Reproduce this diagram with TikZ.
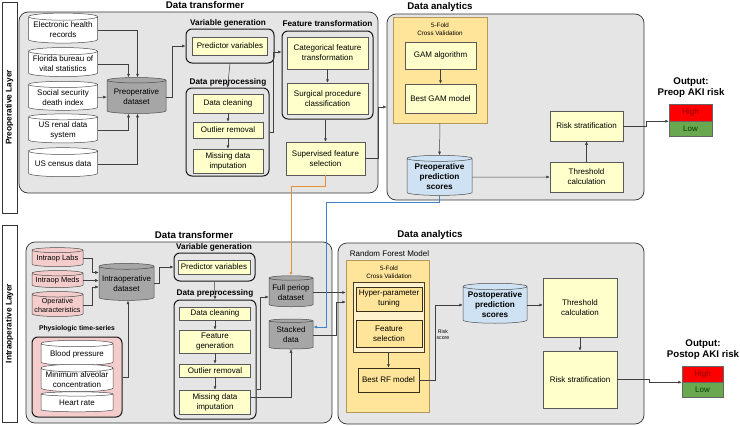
\documentclass[tikz,border=0pt]{standalone}
\usepackage{fontspec}
\setmainfont{Liberation Sans}
\usetikzlibrary{arrows.meta,shapes.geometric}

\definecolor{panelgray}{HTML}{E5E5E5}
\definecolor{boxyellow}{HTML}{FFFFCC}
\definecolor{cvorange}{HTML}{FFE599}
\definecolor{cvlight}{HTML}{FFF2CC}
\definecolor{cvedge}{HTML}{B8975A}
\definecolor{scoreblue}{HTML}{CFE2F3}
\definecolor{labpink}{HTML}{F4CCCC}
\definecolor{datagray}{HTML}{A6A6A6}
\definecolor{linkorange}{HTML}{E69138}
\definecolor{linkblue}{HTML}{3D85C6}
\definecolor{riskred}{HTML}{FF0000}
\definecolor{riskgreen}{HTML}{6AA84F}

\tikzset{
	every node/.style={font=\fontsize{8}{10}\selectfont, inner sep=0pt, align=center},
	sz/.style 2 args={minimum width=#1pt, minimum height=#2pt},
	layer/.style={draw=black!80, fill=white, rotate=90, line width=0.6pt, font=\bfseries\fontsize{8.3}{10}\selectfont},
	panel/.style={draw=black!80, fill=panelgray, rounded corners=9pt, line width=0.7pt},
	grp/.style={draw=black!90, rounded corners=6pt, line width=1pt},
	ybox/.style={draw=black!65, fill=boxyellow, line width=0.5pt},
	obox/.style={draw=black!70!cvedge, fill=cvorange, line width=0.5pt},
	cvbox/.style={draw=cvedge, fill=cvorange, line width=0.5pt},
	cvin/.style={draw=black!60!cvedge, fill=cvlight, line width=0.5pt},
	cyl/.style={cylinder, shape border rotate=90, aspect=0.12, draw=black!70, line width=0.5pt},
	ttl/.style={font=\bfseries\fontsize{9.7}{11}\selectfont},
	subttl/.style={font=\bfseries\fontsize{8.2}{10}\selectfont},
	tinytxt/.style={font=\fontsize{6.3}{7.6}\selectfont},
	riskhi/.style={draw=black!60, fill=riskred, text=red!55!black, line width=0.5pt},
	risklo/.style={draw=black!60, fill=riskgreen, text=green!25!black, line width=0.5pt},
	link/.style={draw=black!75, line width=0.5pt, -{Latex[length=3.5pt,width=3pt]}},
}

\begin{document}
\begin{tikzpicture}[x=1pt, y=-1pt]
		%%%%% START %%%%%
		\useasboundingbox (0,0) rectangle (740,426);
		
		% layer labels
		\node[layer, sz={211}{15}] (preL) at (9.5,107.5) {Preoperative Layer};
		\node[layer, sz={197}{15}] (intraL) at (9.5,323.5) {Intraoperative Layer};
		
		%%%%% PREOPERATIVE: DATA TRANSFORMER %%%%%
		\node[panel, sz={359}{181}] (dt1) at (198.5,102.5) {};
		\node[ttl] at (205,5) {Data transformer};
		
		\node[cyl, fill=white, sz={69}{30}] (ehr) at (63,30) {Electronic health\\records};
		\node[cyl, fill=white, sz={69}{29}] (fla) at (63,64) {Florida bureau of\\vital statistics};
		\node[cyl, fill=white, sz={69}{29}] (ssdi) at (63,97.5) {Social security\\death index};
		\node[cyl, fill=white, sz={69}{29}] (usrds) at (63,130) {US renal data\\system};
		\node[cyl, fill=white, sz={69}{29}] (census) at (63,164) {US census data};
		\node[cyl, fill=datagray, sz={59}{36}] (predata) at (136.5,97) {Preoperative\\dataset};
		
		\node[grp, sz={88}{34}] (vg1) at (230,46) {};
		\node[subttl] at (228,23) {Variable generation};
		\node[ybox, sz={75}{18}] (pv1) at (230,46) {Predictor variables};
		
		\node[grp, sz={83}{88}] (dp1) at (227.5,132) {};
		\node[subttl] at (228,82) {Data preprocessing};
		\node[ybox, sz={70}{19}] (dc1) at (228,103.5) {Data cleaning};
		\node[ybox, sz={70}{16}] (or1) at (228,130) {Outlier removal};
		\node[ybox, sz={70}{24}] (mdi1) at (228,161) {Missing data\\imputation};
		
		\node[grp, sz={91}{88}] (ft1) at (327.5,75) {};
		\node[subttl] at (327.5,24) {Feature transformation};
		\node[ybox, sz={81}{32}] (cft) at (327.5,53) {Categorical feature\\transformation};
		\node[ybox, sz={81}{31}] (spc) at (327.5,98.5) {Surgical procedure\\classification};
		\node[ybox, sz={79}{33}] (sfs) at (325.5,158.5) {Supervised feature\\selection};
		
		\draw[link] (ehr.east) -| ([xshift=1pt]predata.north);
		\draw[link] (fla.east) -| ([xshift=-8pt]predata.north);
		\draw[link] (ssdi.east) -- (predata.west);
		\draw[link] (usrds.east) -| ([xshift=-8pt]predata.south);
		\draw[link] (census.east) -| ([xshift=1pt]predata.south);
		\draw[link] (predata.east) -- ++(6,0) |- (vg1.west);
		\draw[link] (vg1.south) -- (dp1.north);
		\draw[link] (dc1.south) -- (or1.north);
		\draw[link] (or1.south) -- (mdi1.north);
		\draw[link] (dp1.east) -- ++(4,0) |- ([yshift=23pt]ft1.west);
		\draw[link] (cft.south) -- (spc.north);
		\draw[link] (sfs.north |- ft1.south) -- (sfs.north);
		
		%%%%% PREOPERATIVE: DATA ANALYTICS %%%%%
		\node[panel, sz={257}{186}] (da1) at (515.5,107) {};
		\node[ttl] at (440,7) {Data analytics};
		
		\node[cvbox, sz={94}{106}] (cv1) at (440,70) {};
		\node[tinytxt] at (440,29) {5-Fold\\Cross Validation};
		\node[ybox, sz={71}{27}] (gam) at (440.5,55.5) {GAM algorithm};
		\node[ybox, sz={71}{29}] (bgam) at (440.5,98.5) {Best GAM model};
		\node[cyl, fill=scoreblue, sz={65}{40}, font=\bfseries\fontsize{8.2}{10}\selectfont] (pps) at (439.5,177) {Preoperative\\prediction\\scores};
		\node[ybox, sz={73}{30}] (thr1) at (586.5,177) {Threshold\\calculation};
		\node[ybox, sz={73}{30}] (rs1) at (586.5,126) {Risk stratification};
		
		\node[ttl] at (691,87.5) {Output:\\Preop AKI risk};
		\node[riskhi, sz={43}{17}] (high1) at (690.5,112.5) {High};
		\node[risklo, sz={43}{15}] (low1) at (690.5,128.5) {Low};
		
		\draw[link] (gam.south) -- (bgam.north);
		\draw[link] (sfs.east) -- ++(13,0) |- (da1.west);
		\draw[link] (cv1.south) -- (pps.north);
		\draw[link] (pps.east) -- (thr1.west);
		\draw[link] (thr1.north) -- (rs1.south);
		\draw[link] (rs1.east) -- ++(23,0) |- (high1.south west);
		
		%%%%% INTRAOPERATIVE: DATA TRANSFORMER %%%%%
		\node[panel, sz={306}{181}] (dt2) at (179,332.5) {};
		\node[ttl] at (194,235) {Data transformer};
		
		\node[cyl, fill=labpink, sz={51}{19}, font=\fontsize{7.5}{9}\selectfont] (labs) at (57.5,258.5) {Intraop Labs};
		\node[cyl, fill=labpink, sz={51}{17}, font=\fontsize{7.5}{9}\selectfont] (meds) at (57.5,280.5) {Intraop Meds};
		\node[cyl, fill=labpink, sz={51}{25}, font=\fontsize{7.2}{9}\selectfont] (opc) at (57.5,305.5) {Operative\\characteristics};
		\node[cyl, fill=datagray, sz={55}{37}] (intrads) at (126.5,283.5) {Intraoperative\\dataset};
		
		\node[font=\bfseries\fontsize{6.8}{8}\selectfont] at (77,329) {Physiologic time-series};
		\node[grp, fill=labpink, sz={90}{80}] (ptsg) at (77,377) {};
		\node[cyl, fill=white, sz={72}{25}] (bp) at (77,354.5) {Blood pressure};
		\node[cyl, fill=white, sz={72}{26}] (mac) at (77,380) {Minimum alveolar\\concentration};
		\node[cyl, fill=white, sz={72}{20}] (hr) at (77,403) {Heart rate};
		
		\node[grp, sz={81}{28}] (vg2) at (214.5,267) {};
		\node[subttl] at (214,247) {Variable generation};
		\node[ybox, sz={72}{14}] (pv2) at (214,267) {Predictor variables};
		
		\node[grp, sz={82}{119}] (dp2) at (215,359.5) {};
		\node[subttl] at (215,293) {Data preprocessing};
		\node[ybox, sz={71}{13}] (dc2) at (215,313.5) {Data cleaning};
		\node[ybox, sz={71}{23}] (fg2) at (215,341.5) {Feature\\generation};
		\node[ybox, sz={71}{13}] (or2) at (215,370.5) {Outlier removal};
		\node[ybox, sz={71}{24}] (mdi2) at (215,402) {Missing data\\imputation};
		
		\node[cyl, fill=datagray, sz={44}{31}] (fpd) at (291,292.5) {Full periop\\dataset};
		\node[cyl, fill=datagray, sz={44}{30}] (std) at (291,335) {Stacked\\data};
		
		\draw[link] (labs.east) -- ++(9,0) |- ([yshift=11pt]intrads.west);
		\draw[link] (meds.east) -- (meds.east -| intrads.west);
		\draw[link] (opc.east) -- ++(9,0) |- ([yshift=-3.5pt]intrads.west);
		\draw[link] (ptsg.east) -| ([xshift=1.5pt]intrads.south);
		\draw[link] (intrads.east) -- ++(5,0) |- (vg2.west);
		\draw[link] (vg2.south) -- (dp2.north);
		\draw[link] (dc2.south) -- (fg2.north);
		\draw[link] (fg2.south) -- (or2.north);
		\draw[link] (or2.south) -- (mdi2.north);
		\draw[link] ([yshift=-30pt]dp2.east) -- ++(4,0) |- ([yshift=-4.5pt]fpd.west);
		\draw[link] ([yshift=5pt]mdi2.east) -| (std.south);
		
		%%%%% INTRAOPERATIVE: DATA ANALYTICS %%%%%
		\node[panel, sz={306}{181}] (da2) at (491,333.5) {};
		\node[ttl] at (430,235) {Data analytics};
		
		\node at (389.5,254) {Random Forest Model};
		\node[cvbox, sz={83}{152}] (rf) at (387.5,336) {};
		\node[tinytxt] at (389,272) {5-Fold\\Cross Validation};
		\node[cvin, sz={71}{70}] (cv2) at (388.5,317) {};
		\node[obox, sz={66}{24}] (hpt) at (389,299) {Hyper-parameter\\tuning};
		\node[obox, sz={66}{27}] (fsel) at (389,333.5) {Feature\\selection};
		\node[obox, sz={61}{24}] (brf) at (388.5,380) {Best RF model};
		\node[font=\fontsize{5.2}{6.2}\selectfont] at (443,335) {Risk\\score};
		
		\node[cyl, fill=scoreblue, sz={64}{40}, font=\bfseries\fontsize{8.2}{10}\selectfont] (pops) at (495,305) {Postoperative\\prediction\\scores};
		\node[ybox, sz={74}{59}] (thr2) at (580,307.5) {Threshold\\calculation};
		\node[ybox, sz={74}{57}] (rs2) at (580,379.5) {Risk stratification};
		
		\node[ttl] at (703,350) {Output:\\Postop AKI risk};
		\node[riskhi, sz={41}{16}] (high2) at (702.5,374) {High};
		\node[risklo, sz={41}{15}] (low2) at (702.5,389.5) {Low};
		
		\draw[link] (fpd.east) -- (fpd.east -| rf.west);
		\draw[link] (std.east) -- ++(23,0) |- ([yshift=34pt]rf.west);
		\draw[link] (cv2.south) -- (brf.north);
		\draw[link] (brf.east) -- ++(16,0) |- (pops.west);
		\draw[link] (pops.east) -- (pops.east -| thr2.west);
		\draw[link] (thr2.south) -- (rs2.north);
		\draw[link] (rs2.east) -- ++(32,0) |- (high2.south west);
		
		% links between the layers
		\draw[link, draw=linkorange, line width=0.8pt] (sfs.south) -- ++(0,11) -| (fpd.north);
		\draw[link, draw=linkblue, line width=0.8pt] (pps.south) -- ++(0,7) -| ([xshift=13pt,yshift=8pt]std.east) -- ([yshift=8pt]std.east);
		
		%%%%% END %%%%%
\end{tikzpicture}
\end{document}
